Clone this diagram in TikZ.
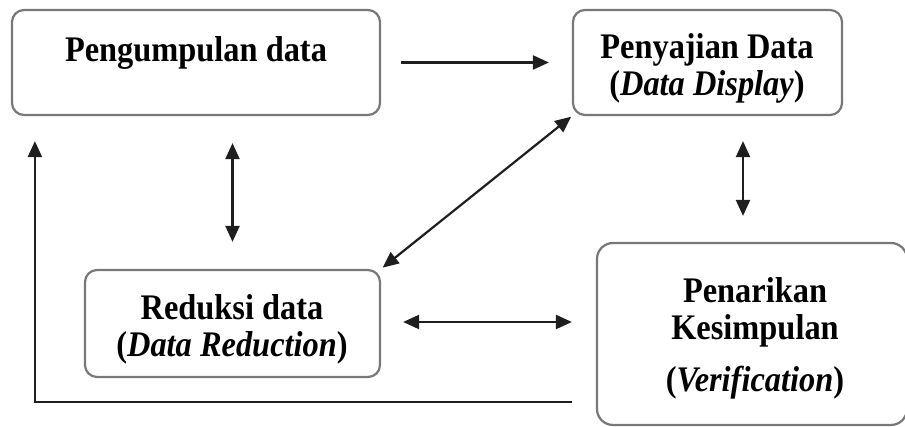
\documentclass[tikz,border=0pt]{standalone}
\usepackage{fontspec}
\setmainfont{Liberation Serif}[FakeStretch=0.9]
\usetikzlibrary{arrows.meta,calc}
\definecolor{boxgray}{RGB}{120,120,120}
\definecolor{arrowdark}{RGB}{30,30,30}
\begin{document}
\begin{tikzpicture}[x=1pt,y=1pt,
  box/.style={draw=boxgray,line width=2.2pt,rounded corners=12pt,fill=white,inner sep=0pt},
  lbl/.style={align=center,font=\fontsize{36}{37}\selectfont\bfseries,text=black,inner sep=0pt},
  conn/.style={draw=arrowdark,line width=2.2pt},
  tip/.style={-{Triangle[length=16pt,width=14pt]}},
  dtip/.style={{Triangle[length=16pt,width=14pt]}-{Triangle[length=16pt,width=14pt]}}]
\useasboundingbox (0,0) rectangle (905,-427);
% boxes
\node[box,minimum width=368pt,minimum height=105pt] (A) at (196,-62.5) {};
\node[box,minimum width=269pt,minimum height=105pt] (B) at (707.5,-62.5) {};
\node[box,minimum width=295pt,minimum height=107pt] (C) at (232.5,-323.5) {};
\node[box,rounded corners=16pt,minimum width=310pt,minimum height=182pt] (D) at (752,-334) {};
% texts
\node[lbl] (tA) at (196,-53) {Pengumpulan data};
\node[lbl] (tB) at (707,-68) {Penyajian Data\\(\textit{Data Display})};
\node[lbl] (tC) at (232,-329) {Reduksi data\\(\textit{Data Reduction})};
\node[lbl] (tD) at (755,-338) {Penarikan\\Kesimpulan\\[15pt](\textit{Verification})};
% connectors
\draw[conn,tip,shorten <=20pt,shorten >=23pt] (A.east) -- (B.west);
\draw[conn,dtip,shorten <=27pt,shorten >=27pt] (A.south -| C.north) -- (C.north);
\draw[conn,dtip,shorten <=25pt,shorten >=26pt] ([xshift=35.5pt]B.south) -- ([xshift=35.5pt]B.south |- D.north);
\draw[conn,dtip,shorten <=1pt,shorten >=2pt] (B.south west) -- (C.north east);
\draw[conn,dtip,shorten <=22pt,shorten >=24pt] ([yshift=1.5pt]C.east) -- ([yshift=1.5pt]C.east -| D.west);
\draw[conn,tip,shorten <=24pt,shorten >=25pt] ([yshift=-68pt]D.west) -| ([xshift=24pt]A.south west);
\end{tikzpicture}
\end{document}
